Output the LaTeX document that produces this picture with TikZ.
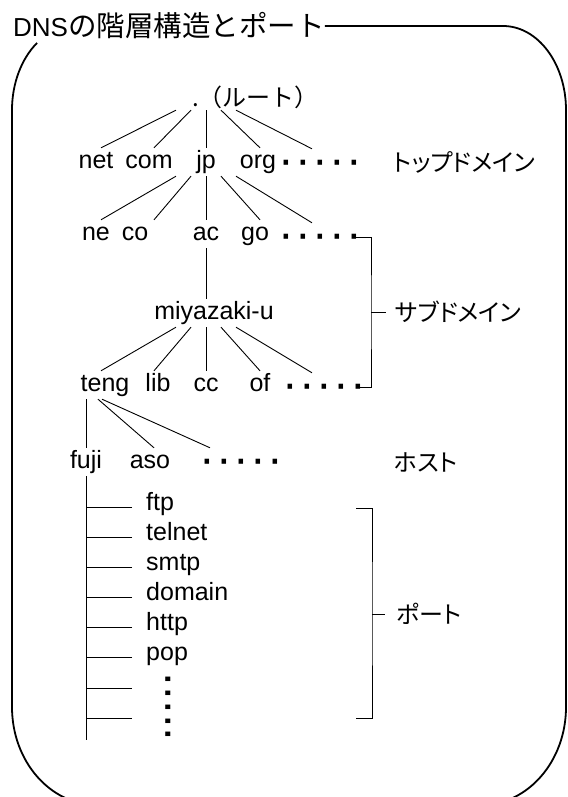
\documentclass[tikz,border=0pt]{standalone}
\usepackage{fontspec}
\setmainfont{Liberation Sans}
\newfontfamily\jp{Noto Sans CJK JP}
\newfontfamily\jpp[RawFeature=+palt]{Noto Sans CJK JP}

\begin{document}
\begin{tikzpicture}[x=1pt,y=1pt]
\tikzstyle{every node}+=[inner sep=0pt]
\tikzstyle{dn}=[font=\fontsize{25}{29}\selectfont, text height=18pt, text depth=5.2pt, minimum height=28pt]
\tikzstyle{jl}=[font=\jpp\fontsize{24}{28}\selectfont, anchor=west, text height=21.1pt, text depth=2.9pt, minimum height=26pt]
\tikzstyle{dts}=[font=\fontsize{47}{50}\selectfont\addfontfeature{LetterSpace=3}, inner xsep=-6pt, text height=25pt, text depth=0pt, minimum height=28pt]
\tikzstyle{vdts}=[dts, font=\fontsize{47}{50}\selectfont\addfontfeature{LetterSpace=-4}, rotate=-90]
\tikzstyle{tree}=[black, line width=0.9pt]
\useasboundingbox (0,0) rectangle (567,-797);
% title and frame
\node [anchor=west] (ttl) at (13,-26) {\fontsize{26}{30}\selectfont DNS{\jp\fontsize{28.5}{30}\selectfont の階層構造とポート}};
\draw [black, line width=1.8pt] (ttl.east) -- (503,-26) arc [start angle=90, end angle=0, x radius=63, y radius=84] -- (566,-707) arc [start angle=0, end angle=-90, x radius=85, y radius=98] -- (97,-805) arc [start angle=-90, end angle=-180, x radius=85, y radius=98] -- (12,-110) arc [start angle=180, end angle=127, x radius=63, y radius=84];
% root and top level domains
\node [jl, font=\jp\fontsize{24}{28}\selectfont] (root) at (192,-97) {.（ルート）};
\node [dn] (net) at (96,-162) {net};
\node [dn] (com) at (149,-162) {com};
\node [dn] (jp) at (206,-162) {jp};
\node [dn] (org) at (258,-162) {org};
\node [dts] (dtop) at (320,-163) {·····};
\node [jl] (top) at (393,-162) {トップドメイン};
\foreach \c/\a/\b in {net/-30/5,com/-15/5,jp/0/0,org/15/2,dtop/30/-8}
  \draw [tree] ([xshift=14+\a]root.south west) -- ([xshift=\b]\c.north);
% second level
\node [dn] (ne) at (96,-234) {ne};
\node [dn] (co) at (135,-234) {co};
\node [dn] (ac) at (206,-234) {ac};
\node [dn] (go) at (255,-234) {go};
\node [dts] (dsld) at (320,-237) {·····};
\foreach \c/\a/\b in {ne/-30/5,co/-15/19,ac/0/0,go/15/5,dsld/30/-8}
  \draw [tree] ([xshift=\a]jp.south) -- ([xshift=\b]\c.north);
% subdomains
\node [dn] (miya) at (214,-313) {miyazaki-u};
\node [jl] (sub) at (395,-312) {サブドメイン};
\draw [tree] (ac.south) -- ([xshift=-8]miya.north);
\node [dn] (teng) at (105,-385) {teng};
\node [dn] (lib) at (158,-385) {lib};
\node [dn] (cc) at (206,-385) {cc};
\node [dn] (of) at (260,-385) {of};
\node [dts] (dsub) at (324,-387) {·····};
\foreach \c/\a/\b in {teng/-30/-4,lib/-15/-4,cc/0/0,of/15/0,dsub/30/-12}
  \draw [tree] ([xshift=-8+\a]miya.south) -- ([xshift=\b]\c.north);
\draw [tree] (dsld.east) -| ([xshift=-24]sub.west) |- (dsub.east);
\draw [tree] ([xshift=-24]sub.west) -- ([xshift=-9]sub.west);
% hosts
\node [dn] (fuji) at (86,-462) {fuji};
\node [dn] (aso) at (150,-462) {aso};
\node [dts] (dhost) at (241,-462) {·····};
\node [jl] (host) at (394,-462) {ホスト};
\draw [tree] (fuji.north |- teng.south) -- (fuji.north);
\draw [tree] ([xshift=-7]teng.south) -- ([xshift=4]aso.north);
\draw [tree] ([xshift=-3]teng.south) -- ([xshift=-31]dhost.north);
% ports
\coordinate (fend) at (86,-740);
\draw [tree] (fuji.south) -- (fend);
\foreach \t [count=\i] in {ftp,telnet,smtp,domain,http,pop}
  \node [dn, anchor=west] (prt\i) at (146,{-504-30.1*(\i-1)}) {\t};
\foreach \i in {1,...,6}
  \draw [tree] ([xshift=-14,yshift=-3]prt\i.west) -- ++(-46,0);
\foreach \i/\y in {7/688,8/718} {
  \coordinate (prt\i) at (86,-\y);
  \draw [tree] (prt\i) -- ++(46,0);
}
\node [vdts] (vdots) at (167.5,-707) {·····};
\node [jl] (port) at (396,-614) {ポート};
\coordinate (ptop) at (356,-508);
\coordinate (pbot) at (356,-718);
\draw [tree] (ptop) -| ([xshift=-24]port.west) |- (pbot);
\draw [tree] ([xshift=-24]port.west) -- ([xshift=-11]port.west);
\end{tikzpicture}
\end{document}
